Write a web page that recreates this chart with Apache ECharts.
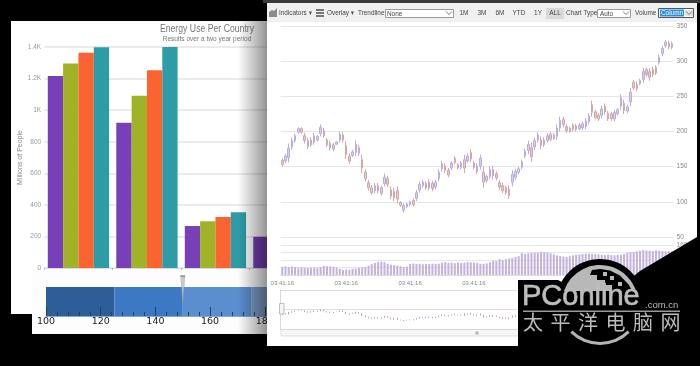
<!DOCTYPE html>
<html>
<head>
<meta charset="utf-8">
<style>
  html, body { margin: 0; padding: 0; background: #000; }
  #main { width: 700px; height: 366px; }
</style>
<script src="https://cdn.jsdelivr.net/npm/echarts@6/dist/echarts.min.js"></script>
</head>
<body>
<div id="main"></div>
<script>
// left chart
const countries = ['A', 'B', 'C', 'D']
const energyPurple = [1216, 920, 266, 198]
const energyGreen = [1296, 1091, 296, null]
const energyOrange = [1364, 1252, 323, null]
const energyTeal = [1398, 1400, 353, null]

// gauge under the left chart
const gaugeBands = [125, 25, 25, 25]
const gaugeColors = ['#2d5e98', '#3c78c4', '#5a8ecf', '#7f9fca']
const gaugeNeedle = [150]

// stock chart
const priceHigh = [162, 168, 183, 191, 197, 206, 206, 198, 191, 192, 198, 195, 210, 205, 191, 187, 184, 186, 200, 199,
  186, 169, 174, 187, 181, 167, 146, 131, 124, 127, 127, 123, 140, 137, 122, 120, 122, 101, 98, 99,
  102, 105, 117, 129, 131, 129, 132, 130, 131, 146, 158, 155, 148, 158, 165, 155, 158, 167, 169, 175,
  158, 155, 167, 150, 139, 150, 151, 143, 131, 127, 123, 123, 145, 147, 150, 160, 176, 187, 184, 191,
  199, 193, 192, 198, 199, 198, 210, 221, 221, 210, 207, 212, 211, 212, 214, 219, 226, 244, 231, 226,
  237, 240, 229, 228, 231, 233, 253, 245, 238, 262, 273, 271, 275, 290, 291, 290, 292, 294, 309, 322,
  330, 329, 328]
const priceLow = [150, 155, 156, 174, 184, 197, 197, 183, 175, 178, 181, 186, 193, 191, 178, 173, 172, 181, 184, 184,
  161, 154, 164, 165, 165, 141, 129, 116, 110, 112, 112, 109, 122, 121, 104, 101, 98, 93, 85, 91,
  94, 93, 101, 113, 120, 117, 116, 115, 118, 129, 143, 141, 135, 145, 153, 146, 146, 141, 155, 156,
  146, 139, 146, 120, 127, 132, 132, 131, 117, 112, 110, 104, 122, 131, 139, 146, 162, 168, 157, 174,
  184, 175, 178, 184, 186, 188, 188, 200, 206, 198, 198, 200, 200, 202, 202, 203, 210, 221, 217, 215,
  219, 224, 215, 215, 214, 223, 231, 225, 226, 236, 259, 257, 266, 269, 278, 272, 278, 280, 295, 307,
  319, 317, 317]
const priceOpen = [159, 158, 163, 178, 187, 199, 204, 194, 187, 181, 185, 188, 197, 201, 188, 183, 175, 182, 188, 195,
  180, 165, 166, 170, 177, 160, 142, 127, 120, 116, 123, 112, 126, 133, 117, 115, 116, 99, 88, 93,
  96, 102, 105, 117, 123, 126, 120, 126, 121, 133, 147, 151, 145, 148, 162, 153, 149, 160, 158, 170,
  155, 143, 151, 142, 130, 136, 146, 140, 127, 123, 120, 118, 128, 135, 142, 149, 165, 173, 177, 178,
  188, 188, 181, 187, 196, 190, 193, 205, 217, 207, 200, 209, 208, 204, 205, 207, 214, 238, 228, 223,
  223, 236, 226, 225, 218, 225, 236, 240, 229, 242, 270, 267, 268, 274, 288, 285, 288, 291, 298, 311,
  322, 326, 325]
const priceClose = [153, 165, 176, 187, 194, 204, 199, 187, 179, 188, 194, 193, 206, 194, 181, 177, 181, 185, 196, 188,
  167, 158, 171, 182, 169, 148, 133, 120, 113, 123, 116, 120, 135, 125, 108, 106, 104, 95, 95, 97,
  100, 96, 113, 125, 128, 120, 128, 119, 128, 142, 154, 145, 138, 155, 156, 148, 155, 148, 165, 161,
  149, 151, 162, 128, 136, 146, 137, 134, 121, 116, 113, 109, 139, 143, 147, 157, 172, 182, 164, 187,
  195, 180, 188, 194, 189, 195, 205, 216, 210, 201, 205, 203, 203, 209, 211, 215, 222, 227, 220, 218,
  232, 228, 218, 218, 227, 231, 248, 230, 235, 256, 262, 261, 273, 285, 281, 277, 281, 283, 306, 318,
  327, 320, 320]
const volumes = [44, 46, 43, 45, 42, 38, 41, 40, 37, 39,
  40, 38, 42, 48, 47, 46, 44, 40, 33, 27,
  30, 28, 33, 35, 38, 40, 43, 50, 58, 64,
  69, 71, 68, 60, 55, 53, 50, 47, 43, 45,
  59, 61, 58, 60, 57, 59, 58, 61, 59, 60,
  66, 69, 64, 66, 63, 67, 65, 66, 69, 68,
  66, 65, 60, 59, 62, 68, 75, 74, 85, 80,
  84, 88, 91, 96, 100, 117, 112, 115, 118, 120,
  119, 123, 122, 120, 116, 110, 105, 102, 98, 96,
  100, 104, 108, 110, 112, 113, 114, 112, 111, 110,
  108, 107, 109, 106, 105, 107, 108, 112, 118, 121,
  123, 126, 130, 133, 131, 129, 128, 132, 130, 127, 126, 128, 128]
const timeLabels = priceHigh.map(() => '03:41:16')

const ohlc = priceHigh.map((h, i) => [priceOpen[i], priceClose[i], priceLow[i], h])

const uiFont = '"Liberation Sans", sans-serif'
const logoGray = '#bcbcbc'

// the reference type is narrow, no narrow face is installed so squeeze it
function label (text, x, y, size, fill, align, font, squeeze) {
  return {
    type: 'text',
    z: 10,
    silent: true,
    x: x,
    y: y,
    scaleX: squeeze || 0.8,
    style: {
      text: text,
      x: 0,
      y: 0,
      fill: fill || '#444',
      font: (size || 8) + 'px ' + (font || uiFont),
      textAlign: align || 'left',
      textVerticalAlign: 'middle'
    }
  }
}

function box (x, y, w, h, fill, z, stroke) {
  return {
    type: 'rect',
    z: z,
    silent: true,
    shape: { x: x, y: y, width: w, height: h },
    style: { fill: fill, stroke: stroke || null, lineWidth: stroke ? 1 : 0 }
  }
}

function chevron (x, y) {
  return {
    type: 'polyline',
    z: 10,
    silent: true,
    shape: { points: [[x - 3, y - 1.5], [x, y + 1.5], [x + 3, y - 1.5]] },
    style: { stroke: '#777', lineWidth: 1, fill: null }
  }
}

function logoSector (r, r0, from, to, fill, z) {
  return {
    type: 'sector',
    z: z,
    silent: true,
    shape: { cx: 600, cy: 303, r: r, r0: r0, startAngle: Math.PI * from, endAngle: Math.PI * to, clockwise: true },
    style: { fill: fill }
  }
}

const logoWord = label('PConline', 522, 297, 29, logoGray, 'left', uiFont, 1)
logoWord.z = 23
logoWord.style.stroke = logoGray
logoWord.style.lineWidth = 0.7

const chartTitle = label('Energy Use Per Country', 207, 29, 11, '#777', 'center', uiFont, 0.79)
chartTitle.z = 1
const chartSubtitle = label('Results over a two year period', 207, 39, 8, '#777', 'center', uiFont, 0.82)
chartSubtitle.z = 1

const panels = [
  // sheets behind the charts
  box(11, 21, 260, 293, '#fff', -5),
  box(32, 272, 240, 62, '#fdfdfd', -4),
  chartTitle,
  chartSubtitle,
  {
    type: 'rect',
    z: 5,
    silent: true,
    shape: { x: 238, y: 21, width: 29, height: 313 },
    style: {
      fill: {
        type: 'linear', x: 0, y: 0, x2: 1, y2: 0,
        colorStops: [
          { offset: 0, color: 'rgba(0,0,0,0)' },
          { offset: 1, color: 'rgba(0,0,0,0.42)' }
        ]
      }
    }
  },
  box(263, 0, 437, 3, '#3a3a3a', 6),
  box(267, 3, 430, 343, '#fff', 6),

  // toolbar
  box(267, 3, 430, 19, '#f0f0f0', 9),
  {
    type: 'polygon',
    z: 10,
    silent: true,
    shape: { points: [[269, 17], [269, 12], [272, 10], [274, 11], [277, 8], [277, 17]] },
    style: { fill: '#8c8c8c' }
  },
  box(316, 9, 8, 2, '#777', 10),
  box(316, 12, 8, 2, '#777', 10),
  box(316, 15, 8, 2, '#777', 10),
  label('Indicators', 279, 13),
  label('▾', 309, 13, 7),
  label('Overlay', 327, 13),
  label('▾', 351, 13, 7),
  label('Trendline', 358, 13),
  box(385.5, 9.5, 68, 8, '#fff', 9, '#9a9a9a'),
  label('None', 387, 13.5),
  chevron(449, 13),
  label('1M', 464, 13, 8, '#444', 'center'),
  label('3M', 482, 13, 8, '#444', 'center'),
  label('6M', 500, 13, 8, '#444', 'center'),
  label('YTD', 519, 13, 8, '#444', 'center'),
  label('1Y', 538, 13, 8, '#444', 'center'),
  box(546, 8, 18, 11, '#d9d9d9', 9),
  label('ALL', 555, 13, 8, '#444', 'center'),
  label('Chart Type', 566, 13),
  box(597.5, 9.5, 33, 8, '#fff', 9, '#9a9a9a'),
  label('Auto', 600, 13.5),
  chevron(626, 13),
  label('Volume', 635, 13),
  box(658.5, 8.5, 35, 9, '#fff', 9, '#555'),
  box(660, 9.5, 24, 7, '#2a8fd8', 10),
  label('Column', 661, 13, 8, '#fff'),
  box(685, 10, 8, 6, '#e3e3e3', 10),
  chevron(689, 13),

  // navigator bits
  box(281, 329.5, 416, 6.5, '#f6f6f6', 6, '#dedede'),
  box(475.5, 331.5, 3, 3, '#b5b5b5', 10),
  box(279.5, 303.5, 4.5, 10.5, '#f4f4f4', 10, '#bdbdbd'),

  // corner mark
  {
    type: 'polygon',
    z: 20,
    silent: true,
    shape: { points: [[518, 280], [558, 280], [600, 303], [640, 271], [697, 237], [700, 237], [700, 366], [518, 366]] },
    style: { fill: '#000' }
  },
  logoSector(44, 0, 0, 2, '#000', 20),
  logoSector(38, 0, 1.1, 1.9, '#b8b8b8', 21),
  {
    type: 'polygon',
    z: 22,
    silent: true,
    shape: {
      points: [[592, 270], [600, 269], [610, 270.5], [620, 275.5], [629, 285], [632, 291], [612, 291], [612, 285],
        [605, 285], [605, 280], [597, 280], [597, 275], [590, 275]]
    },
    style: { fill: '#000' }
  },
  box(603, 272, 4, 4, '#b8b8b8', 22),
  box(610, 276, 4, 4, '#b8b8b8', 22),
  box(618, 282, 4, 4, '#b8b8b8', 22),
  box(555, 291, 90, 20, '#000', 22),
  logoSector(42, 39, 0.25, 0.75, '#b4b4b4', 21),
  logoWord,
  Object.assign(label('.com.cn', 645, 305, 9.5, logoGray, 'left', uiFont, 1), { z: 23 }),
  box(523, 310.5, 157, 1.5, '#9a9a9a', 23)
]

// 6 separate glyphs because the logo text is widely spaced
Array.from('太平洋电脑网').forEach((ch, i) => {
  panels.push(Object.assign(label(ch, 533 + i * 27.5, 322, 20, logoGray, 'center', '"Noto Sans CJK SC", sans-serif', 1), { z: 23 }))
})

const chart = echarts.init(document.getElementById('main'), null, { renderer: 'canvas' })

function energySeries (data, color) {
  return {
    type: 'bar',
    xAxisIndex: 0,
    yAxisIndex: 0,
    data: data,
    barGap: 0,
    barCategoryGap: '10.5%',
    itemStyle: { color: color },
    z: 2
  }
}

function gaugeSeries (value, color) {
  return {
    type: 'bar',
    xAxisIndex: 1,
    yAxisIndex: 1,
    stack: 'gauge',
    data: [value],
    barWidth: '100%',
    itemStyle: { color: color },
    z: 2
  }
}

chart.setOption({
  animation: false,
  backgroundColor: '#000',
  graphic: { elements: panels },
  grid: [
    { left: 44.2, top: 47, width: 274, height: 221 },
    { left: 46, top: 287, width: 273.5, height: 29 },
    { left: 280.7, top: 26, width: 392.9, height: 211 },
    { left: 280.7, top: 245, width: 392.9, height: 30 },
    { left: 280.7, top: 290, width: 392.9, height: 39 }
  ],
  xAxis: [
    {
      gridIndex: 0,
      type: 'category',
      data: countries,
      axisLine: { lineStyle: { color: '#dcdcdc' } },
      axisTick: { show: true, length: 2, lineStyle: { color: '#bbb' } },
      axisLabel: { show: false }
    },
    {
      gridIndex: 1,
      type: 'value',
      min: 100,
      max: 200,
      interval: 20,
      z: 3,
      axisLine: { show: true, lineStyle: { color: '#7da7d9' } },
      axisTick: { show: true, inside: true, length: 9, lineStyle: { color: '#24405f', width: 1 } },
      minorTick: { show: true, splitNumber: 5, length: 4, lineStyle: { color: '#24405f' } },
      splitLine: { show: false },
      axisLabel: { color: '#222', fontSize: 9.5, margin: 1, fontFamily: 'DejaVu Sans' }
    },
    {
      gridIndex: 2,
      type: 'category',
      data: timeLabels,
      z: 7,
      axisLine: { show: false },
      axisTick: { show: false },
      axisLabel: { show: false }
    },
    {
      gridIndex: 3,
      type: 'category',
      data: timeLabels,
      z: 7,
      axisLine: { lineStyle: { color: '#dcdcdc' } },
      axisTick: { show: false },
      axisLabel: { color: '#888', fontSize: 6, margin: 5, interval: 19, fontFamily: uiFont }
    },
    {
      gridIndex: 4,
      type: 'category',
      data: timeLabels,
      z: 7,
      axisLine: { lineStyle: { color: '#d8d8d8' } },
      axisTick: { show: false },
      axisLabel: { show: false }
    }
  ],
  yAxis: [
    {
      gridIndex: 0,
      type: 'value',
      min: 0,
      max: 1400,
      interval: 200,
      name: 'Millions of People',
      nameLocation: 'middle',
      nameGap: 18,
      nameTextStyle: { color: '#888', fontSize: 7, fontFamily: uiFont },
      axisLine: { show: false },
      axisTick: { show: false },
      splitLine: { lineStyle: { color: '#e4e4e4', width: 1.5 } },
      axisLabel: {
        color: '#999',
        fontSize: 6.5,
        margin: 3,
        fontFamily: uiFont,
        formatter: v => (v >= 1000 ? (v / 1000) + 'K' : v)
      }
    },
    {
      gridIndex: 1,
      type: 'category',
      data: ['gauge'],
      axisLine: { show: false },
      axisTick: { show: false },
      axisLabel: { show: false }
    },
    {
      gridIndex: 2,
      type: 'value',
      position: 'right',
      min: 50,
      max: 350,
      interval: 50,
      z: 7,
      axisLine: { show: false },
      axisTick: { show: false },
      splitLine: { lineStyle: { color: '#e6e6e6', width: 1 } },
      axisLabel: { color: '#888', fontSize: 6.5, margin: 3, fontFamily: uiFont }
    },
    {
      gridIndex: 3,
      type: 'value',
      position: 'right',
      min: 0,
      max: 160,
      interval: 40,
      z: 7,
      axisLine: { show: false },
      axisTick: { show: false },
      splitLine: { lineStyle: { color: '#e6e6e6', width: 1 } },
      axisLabel: { color: '#888', fontSize: 6.5, margin: 3, fontFamily: uiFont }
    },
    {
      gridIndex: 4,
      type: 'value',
      min: 0,
      max: 420,
      interval: 210,
      z: 7,
      axisLine: { show: true, lineStyle: { color: '#d8d8d8' } },
      axisTick: { show: false },
      splitLine: { lineStyle: { color: '#dedede' } },
      axisLabel: { show: false }
    }
  ],
  series: [
    energySeries(energyPurple, '#7740b8'),
    energySeries(energyGreen, '#a0b226'),
    energySeries(energyOrange, '#fb6330'),
    energySeries(energyTeal, '#2e9ca6'),
    gaugeSeries(gaugeBands[0], gaugeColors[0]),
    gaugeSeries(gaugeBands[1], gaugeColors[1]),
    gaugeSeries(gaugeBands[2], gaugeColors[2]),
    gaugeSeries(gaugeBands[3], gaugeColors[3]),
    {
      type: 'scatter',
      xAxisIndex: 1,
      yAxisIndex: 1,
      data: gaugeNeedle.map(v => [v, 'gauge']),
      clip: false,
      symbol: 'path://M0 0 L10 0 L5 100 Z',
      symbolSize: [4.5, 29],
      symbolOffset: [0, -11],
      itemStyle: { color: '#b8bcc0', borderColor: '#777', borderWidth: 0.5 },
      z: 4
    },
    {
      type: 'candlestick',
      xAxisIndex: 2,
      yAxisIndex: 2,
      data: ohlc,
      barWidth: 2,
      itemStyle: {
        color: '#d6d0ee',
        color0: '#e6caca',
        borderColor: '#b9aee2',
        borderColor0: '#d3a8a8',
        borderWidth: 1
      },
      z: 8
    },
    {
      type: 'bar',
      xAxisIndex: 3,
      yAxisIndex: 3,
      data: volumes,
      barWidth: 2,
      itemStyle: { color: '#c3b1de' },
      z: 8
    },
    {
      type: 'candlestick',
      xAxisIndex: 4,
      yAxisIndex: 4,
      data: ohlc,
      barWidth: 1,
      itemStyle: {
        color: '#a79dd4',
        color0: '#cf9a9a',
        borderColor: '#a79dd4',
        borderColor0: '#cf9a9a',
        borderWidth: 1
      },
      z: 8
    }
  ]
})

window.onresize = function () {
  chart.resize()
}
</script>
</body>
</html>
